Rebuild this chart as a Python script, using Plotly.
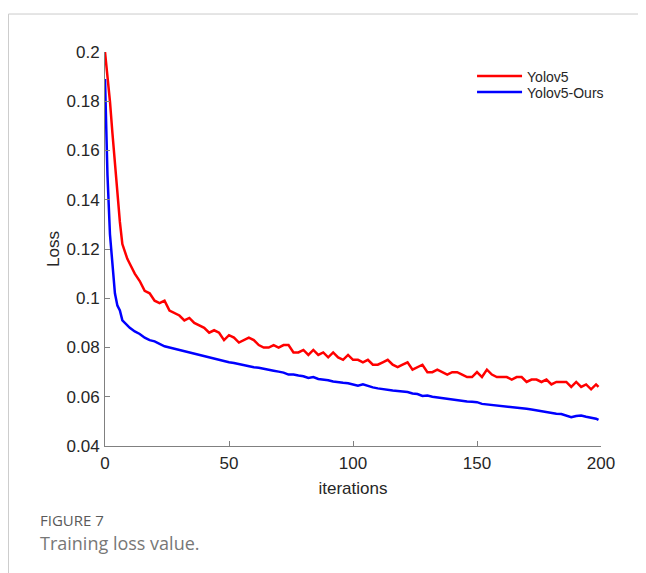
import plotly.graph_objects as go

iterations = [0, 1, 2, 3, 4, 5, 6, 7, 8, 9, 10] + list(range(12, 200, 2)) + [199]

yolov5 = [
    0.200, 0.191, 0.180, 0.167, 0.154, 0.143, 0.131, 0.122, 0.119, 0.116, 0.114,
    0.110, 0.107, 0.103, 0.102, 0.099, 0.098, 0.099, 0.095, 0.094, 0.093,
    0.091, 0.092, 0.090, 0.089, 0.088, 0.086, 0.087, 0.086, 0.083, 0.085,
    0.084, 0.082, 0.083, 0.084, 0.083, 0.081, 0.080, 0.080, 0.081, 0.080,
    0.081, 0.081, 0.078, 0.078, 0.079, 0.077, 0.079, 0.077, 0.078, 0.076,
    0.078, 0.076, 0.075, 0.077, 0.075, 0.075, 0.074, 0.075, 0.073, 0.073,
    0.074, 0.075, 0.073, 0.072, 0.073, 0.074, 0.071, 0.072, 0.073, 0.070,
    0.070, 0.071, 0.070, 0.069, 0.070, 0.070, 0.069, 0.068, 0.068, 0.070,
    0.068, 0.071, 0.069, 0.068, 0.068, 0.068, 0.067, 0.068, 0.068, 0.066,
    0.067, 0.067, 0.066, 0.067, 0.065, 0.066, 0.066, 0.066, 0.064, 0.066,
    0.064, 0.065, 0.063, 0.065, 0.064,
]

yolov5_ours = [
    0.189, 0.150, 0.126, 0.112, 0.102, 0.097, 0.095, 0.091, 0.090, 0.089, 0.088,
    0.0865, 0.0855, 0.0840, 0.0830, 0.0825, 0.0815, 0.0805, 0.0800, 0.0795, 0.0790,
    0.0785, 0.0778, 0.0775, 0.0770, 0.0765, 0.0760, 0.0752, 0.0748, 0.0745, 0.0740,
    0.0737, 0.0732, 0.0730, 0.0725, 0.0720, 0.0718, 0.0713, 0.0710, 0.0706, 0.0702,
    0.0698, 0.0690, 0.0690, 0.0686, 0.0683, 0.0676, 0.0680, 0.0672, 0.0670, 0.0667,
    0.0662, 0.0661, 0.0657, 0.0655, 0.0650, 0.0645, 0.0651, 0.0643, 0.0638, 0.0634,
    0.0630, 0.0627, 0.0625, 0.0623, 0.0621, 0.0619, 0.0613, 0.0611, 0.0603, 0.0605,
    0.0600, 0.0597, 0.0595, 0.0591, 0.0589, 0.0586, 0.0583, 0.0581, 0.0580, 0.0578,
    0.0571, 0.0569, 0.0566, 0.0563, 0.0561, 0.0560, 0.0558, 0.0556, 0.0554, 0.0551,
    0.0548, 0.0544, 0.0540, 0.0537, 0.0534, 0.0531, 0.0530, 0.0524, 0.0517, 0.0522,
    0.0524, 0.0519, 0.0516, 0.0511, 0.0506,
]

series_names = ["Yolov5", "Yolov5-Ours"]
x_ticks = [0, 50, 100, 150, 200]
y_ticks = [0.04, 0.06, 0.08, 0.1, 0.12, 0.14, 0.16, 0.18, 0.2]

fig = go.Figure()
fig.add_trace(go.Scatter(x=iterations, y=yolov5, mode="lines", name=series_names[0],
                         line=dict(color="#ff0000", width=2.5), legend="legend"))
fig.add_trace(go.Scatter(x=iterations, y=yolov5_ours, mode="lines", name=series_names[1],
                         line=dict(color="#0000ff", width=2.5), legend="legend2"))

axis_font = dict(family="Liberation Sans, Arial, sans-serif", size=17, color="#262626")
legend_font = dict(family="Liberation Sans, Arial, sans-serif", size=14, color="#262626")

fig.update_layout(
    width=646, height=573,
    margin=dict(l=97, r=53, t=44, b=135),
    paper_bgcolor="white", plot_bgcolor="white",
    showlegend=True,
    legend=dict(x=0.74, y=0.9784, xanchor="left", yanchor="top",
                bgcolor="rgba(0,0,0,0)", borderwidth=0, font=legend_font,
                itemwidth=45, tracegroupgap=0),
    legend2=dict(x=0.74, y=0.9378, xanchor="left", yanchor="top",
                 bgcolor="rgba(0,0,0,0)", borderwidth=0, font=legend_font,
                 itemwidth=45, tracegroupgap=0),
    xaxis=dict(range=[0, 200], tickvals=x_ticks, ticks="inside", ticklen=5,
               tickcolor="#808080", showline=True, linecolor="#808080", linewidth=1,
               showgrid=False, zeroline=False, tickfont=axis_font, ticklabelstandoff=2,
               title=dict(text="iterations", font=axis_font, standoff=9)),
    yaxis=dict(range=[0.04, 0.2], tickvals=y_ticks, ticks="inside", ticklen=5,
               tickcolor="#808080", showline=True, linecolor="#808080", linewidth=1,
               showgrid=False, zeroline=False, tickfont=axis_font, ticklabelstandoff=1),
    shapes=[
        dict(type="line", xref="paper", yref="paper", x0=-0.1946, x1=1.2,
             y0=1.0964, y1=1.0964, line=dict(color="#cccccc", width=1)),
        dict(type="line", xref="paper", yref="paper", x0=-0.1946, x1=-0.1946,
             y0=1.0964, y1=-0.4, line=dict(color="#cccccc", width=1)),
    ],
    annotations=[
        dict(text="Loss", xref="paper", yref="paper", x=-0.105, y=0.5,
             xanchor="center", yanchor="middle", textangle=-90, showarrow=False,
             font=axis_font),
        dict(text="FIGURE 7", xref="paper", yref="paper", x=-0.135, y=-0.1878,
             xanchor="left", yanchor="middle", showarrow=False,
             font=dict(family="Open Sans, sans-serif", size=15, color="#5a5a5a")),
        dict(text="Training loss value.", xref="paper", yref="paper", x=-0.135, y=-0.2462,
             xanchor="left", yanchor="middle", showarrow=False,
             font=dict(family="Open Sans, sans-serif", size=18, color="#777777")),
    ],
)

fig.write_html("out.html")
